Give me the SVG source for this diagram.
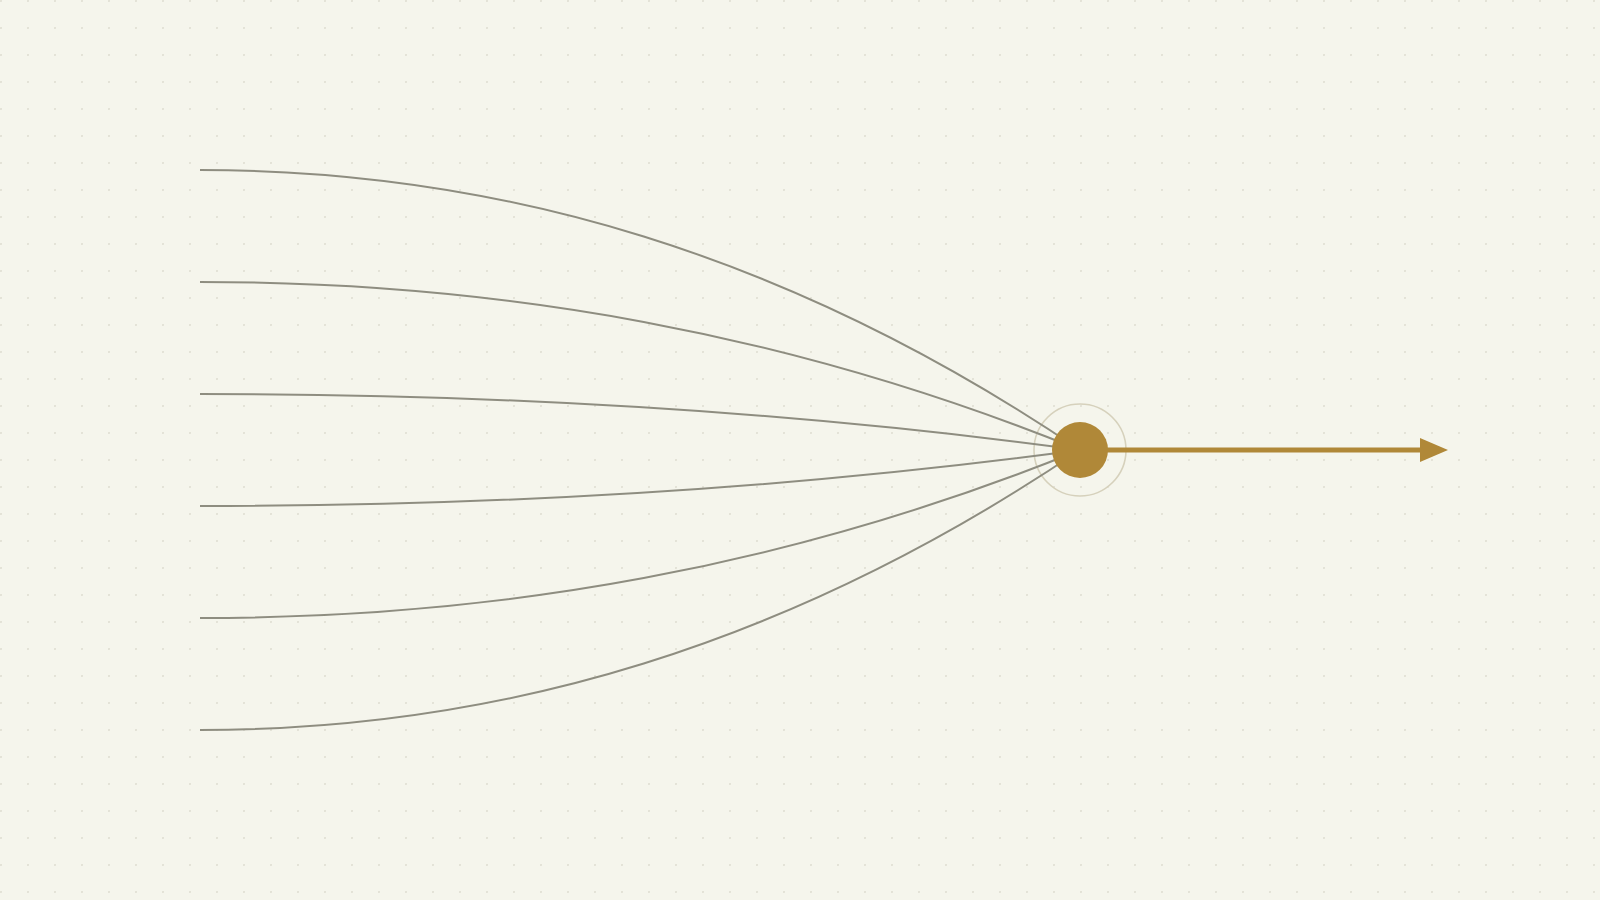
<svg xmlns="http://www.w3.org/2000/svg" width="1600" height="900" viewBox="0 0 1600 900">
  <style>
    .flow { fill: none; stroke: #8e8d80; stroke-width: 2; stroke-linecap: butt; }
    .out { fill: none; stroke: #b08838; stroke-width: 5; }
    .ring { fill: none; stroke: #d6d1bc; stroke-width: 1.6; }
    .hub { fill: #b08838; }
  </style>
  <defs>
    <pattern id="dots" x="0" y="0" width="27" height="27" patternUnits="userSpaceOnUse">
      <circle cx="1" cy="1" r="1.1" fill="#e2e1d5"/>
    </pattern>
    <marker id="arrow" markerUnits="userSpaceOnUse" markerWidth="28" markerHeight="24" refX="0" refY="12" orient="auto">
      <path d="M0,0 L28,12 L0,24 Z" fill="#b08838"/>
    </marker>
  </defs>
  <rect width="1600" height="900" fill="#f5f5ec"/>
  <rect width="1600" height="900" fill="url(#dots)"/>

  <g id="hub-ring">
    <circle class="ring" cx="1080" cy="450" r="46"/>
  </g>

  <g id="connectors">
    <path class="flow" d="M200,170 C500,170 790,254 1080,450"/>
    <path class="flow" d="M200,282 C500,282 790,332.4 1080,450"/>
    <path class="flow" d="M200,394 C500,394 790,410.8 1080,450"/>
    <path class="flow" d="M200,506 C500,506 790,489.2 1080,450"/>
    <path class="flow" d="M200,618 C500,618 790,567.6 1080,450"/>
    <path class="flow" d="M200,730 C500,730 790,646 1080,450"/>
    <line class="out" x1="1106" y1="450" x2="1420" y2="450" marker-end="url(#arrow)"/>
  </g>

  <g id="hub">
    <circle class="hub" cx="1080" cy="450" r="28"/>
  </g>
</svg>
